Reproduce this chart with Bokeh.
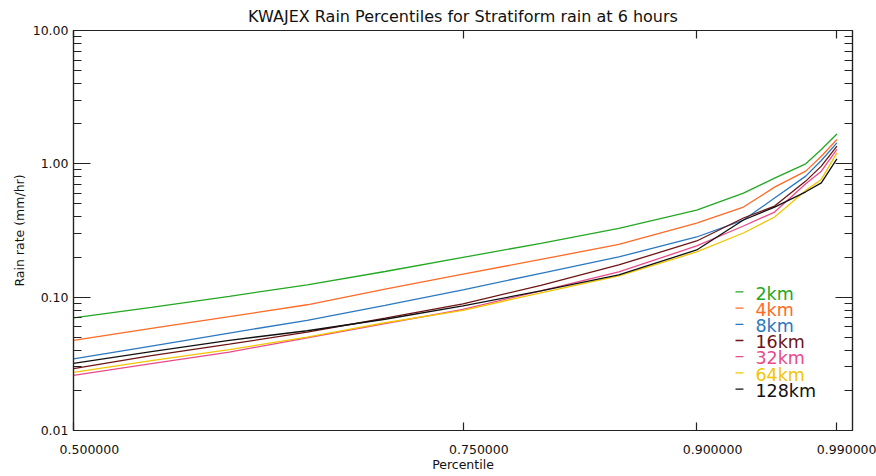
import numpy as np
from bokeh.plotting import figure
from bokeh.models import (LinearAxis, LogAxis, FixedTicker, CustomJSTickFormatter,
                          PrintfTickFormatter, ColumnDataSource)
from bokeh.core.properties import value
from bokeh.embed import file_html
from bokeh.resources import INLINE

# ---------------- data ----------------
percentiles = [0.50, 0.55, 0.60, 0.65, 0.70, 0.75, 0.80, 0.85, 0.90, 0.93, 0.95, 0.97, 0.98, 0.99]

rain_2km   = [0.0700, 0.0839, 0.1015, 0.1237, 0.1558, 0.1987, 0.2536, 0.3285, 0.4500, 0.6033, 0.7810, 1.000, 1.281, 1.676]
rain_4km   = [0.0475, 0.0584, 0.0715, 0.0877, 0.1150, 0.1487, 0.1919, 0.2484, 0.3598, 0.4739, 0.6688, 0.8816, 1.141, 1.521]
rain_8km   = [0.0344, 0.0430, 0.0538, 0.0671, 0.0869, 0.1135, 0.1510, 0.2003, 0.2827, 0.3790, 0.5535, 0.8089, 1.060, 1.435]
rain_16km  = [0.0291, 0.0364, 0.0444, 0.0546, 0.0695, 0.0892, 0.1227, 0.1745, 0.2639, 0.3923, 0.4825, 0.7421, 0.9607, 1.356]
rain_32km  = [0.0259, 0.0317, 0.0387, 0.0496, 0.0633, 0.0811, 0.1115, 0.1547, 0.2421, 0.3418, 0.4350, 0.7081, 0.8816, 1.281]
rain_64km  = [0.0273, 0.0334, 0.0404, 0.0501, 0.0643, 0.0797, 0.1078, 0.1444, 0.2184, 0.3029, 0.3990, 0.6320, 0.7641, 1.208]
rain_128km = [0.0319, 0.0390, 0.0475, 0.0560, 0.0683, 0.0861, 0.1115, 0.1469, 0.2260, 0.3790, 0.4739, 0.6170, 0.7203, 1.089]

series_names = ["2km", "4km", "8km", "16km", "32km", "64km", "128km"]
series_values = [rain_2km, rain_4km, rain_8km, rain_16km, rain_32km, rain_64km, rain_128km]
series_colors = ["#22a822", "#ff6a26", "#2a78c0", "#6e1414", "#ea4a8a", "#f2c500", "#111111"]

x_ticks = [0.5, 0.75, 0.9, 0.99]
y_ticks = [0.01, 0.1, 1.0, 10.0]

title_text = "KWAJEX Rain Percentiles for Stratiform rain at 6 hours"
x_label = "Percentile"
y_label = "Rain rate (mm/hr)"

FONT = "DejaVu Sans"
AX = "#222222"

# ---------------- figure ----------------
p = figure(width=876, height=476, x_range=(0.5, 1.0), y_range=(0.01, 10.0),
           y_axis_type="log", output_backend="svg", toolbar_location=None,
           min_border_left=73, min_border_right=24, min_border_top=29, min_border_bottom=46,
           title=title_text)
p.title.align = "center"
p.title.text_font = FONT
p.title.text_font_size = "16px"
p.title.text_font_style = "normal"
p.title.text_color = "#111111"
p.title.standoff = 9
p.title.offset = 0
p.xgrid.visible = False
p.ygrid.visible = False
p.outline_line_color = AX
p.outline_line_width = 1.2
p.background_fill_color = "white"
p.border_fill_color = "white"

y_minor = [m * d for d in [0.01, 0.1, 1.0] for m in range(2, 10)]
x_ticker = FixedTicker(ticks=x_ticks)
y_ticker = FixedTicker(ticks=y_ticks, minor_ticks=y_minor)

def style_axis(ax, major_in, minor_in):
    ax.axis_line_color = AX
    ax.axis_line_width = 1.2
    ax.major_tick_line_color = AX
    ax.major_tick_line_width = 1.2
    ax.minor_tick_line_color = AX
    ax.minor_tick_line_width = 1.2
    ax.major_tick_in = major_in
    ax.major_tick_out = 0
    ax.minor_tick_in = minor_in
    ax.minor_tick_out = 0
    ax.major_label_text_font = FONT
    ax.major_label_text_font_size = "12.5px"
    ax.major_label_text_color = "#111111"
    ax.axis_label_text_font = FONT
    ax.axis_label_text_font_size = "12.5px"
    ax.axis_label_text_font_style = "normal"
    ax.axis_label_text_color = "#111111"

# bottom x axis (labels sit a little right of their ticks, as in the original)
xa = p.xaxis[0]
xa.ticker = x_ticker
xa.formatter = CustomJSTickFormatter(code="return '\\u00a0'.repeat(8) + tick.toFixed(6);")
xa.axis_label = x_label
style_axis(xa, 8, 0)
xa.major_label_standoff = 11
xa.axis_label_standoff = -3

# left y axis
ya = p.yaxis[0]
ya.ticker = y_ticker
ya.formatter = PrintfTickFormatter(format="%.2f")
ya.axis_label = y_label
style_axis(ya, 17, 8)
ya.major_label_standoff = 5
ya.axis_label_standoff = 3

blank = CustomJSTickFormatter(code="return '';")
# top axis
xt = LinearAxis(ticker=x_ticker, formatter=blank)
style_axis(xt, 8, 0)
xt.major_label_standoff = 0
p.add_layout(xt, "above")
# right axis
yr = LogAxis(ticker=y_ticker, formatter=blank)
style_axis(yr, 17, 8)
yr.major_label_standoff = 0
p.add_layout(yr, "right")

# ---------------- curves ----------------
for name, vals, col in zip(series_names, series_values, series_colors):
    p.line(percentiles, vals, line_color=col, line_width=1.3)

# ---------------- legend (coloured text, drawn inside the frame) ----------------
legend_text_x = 0.9377
legend_dash_x0 = 0.9249
legend_dash_x1 = 0.9300
legend_top = 0.1065
legend_step_dec = 0.1215
n = len(series_names)
ly = [legend_top * 10 ** (-legend_step_dec * i) for i in range(n)]
lsrc = ColumnDataSource(dict(x=[legend_text_x] * n, y=ly, t=series_names, c=series_colors,
                             x0=[legend_dash_x0] * n, x1=[legend_dash_x1] * n,
                             yd=[v * 10 ** (0.012) for v in ly]))
p.segment(x0="x0", y0="yd", x1="x1", y1="yd", line_color="c", line_width=1.3, source=lsrc)
p.text(x="x", y="y", text="t", text_color="c", text_font=value(FONT), text_font_size="17.5px",
       text_baseline="middle", text_align="left", source=lsrc)

open("out.html", "w").write(file_html(p, INLINE))
